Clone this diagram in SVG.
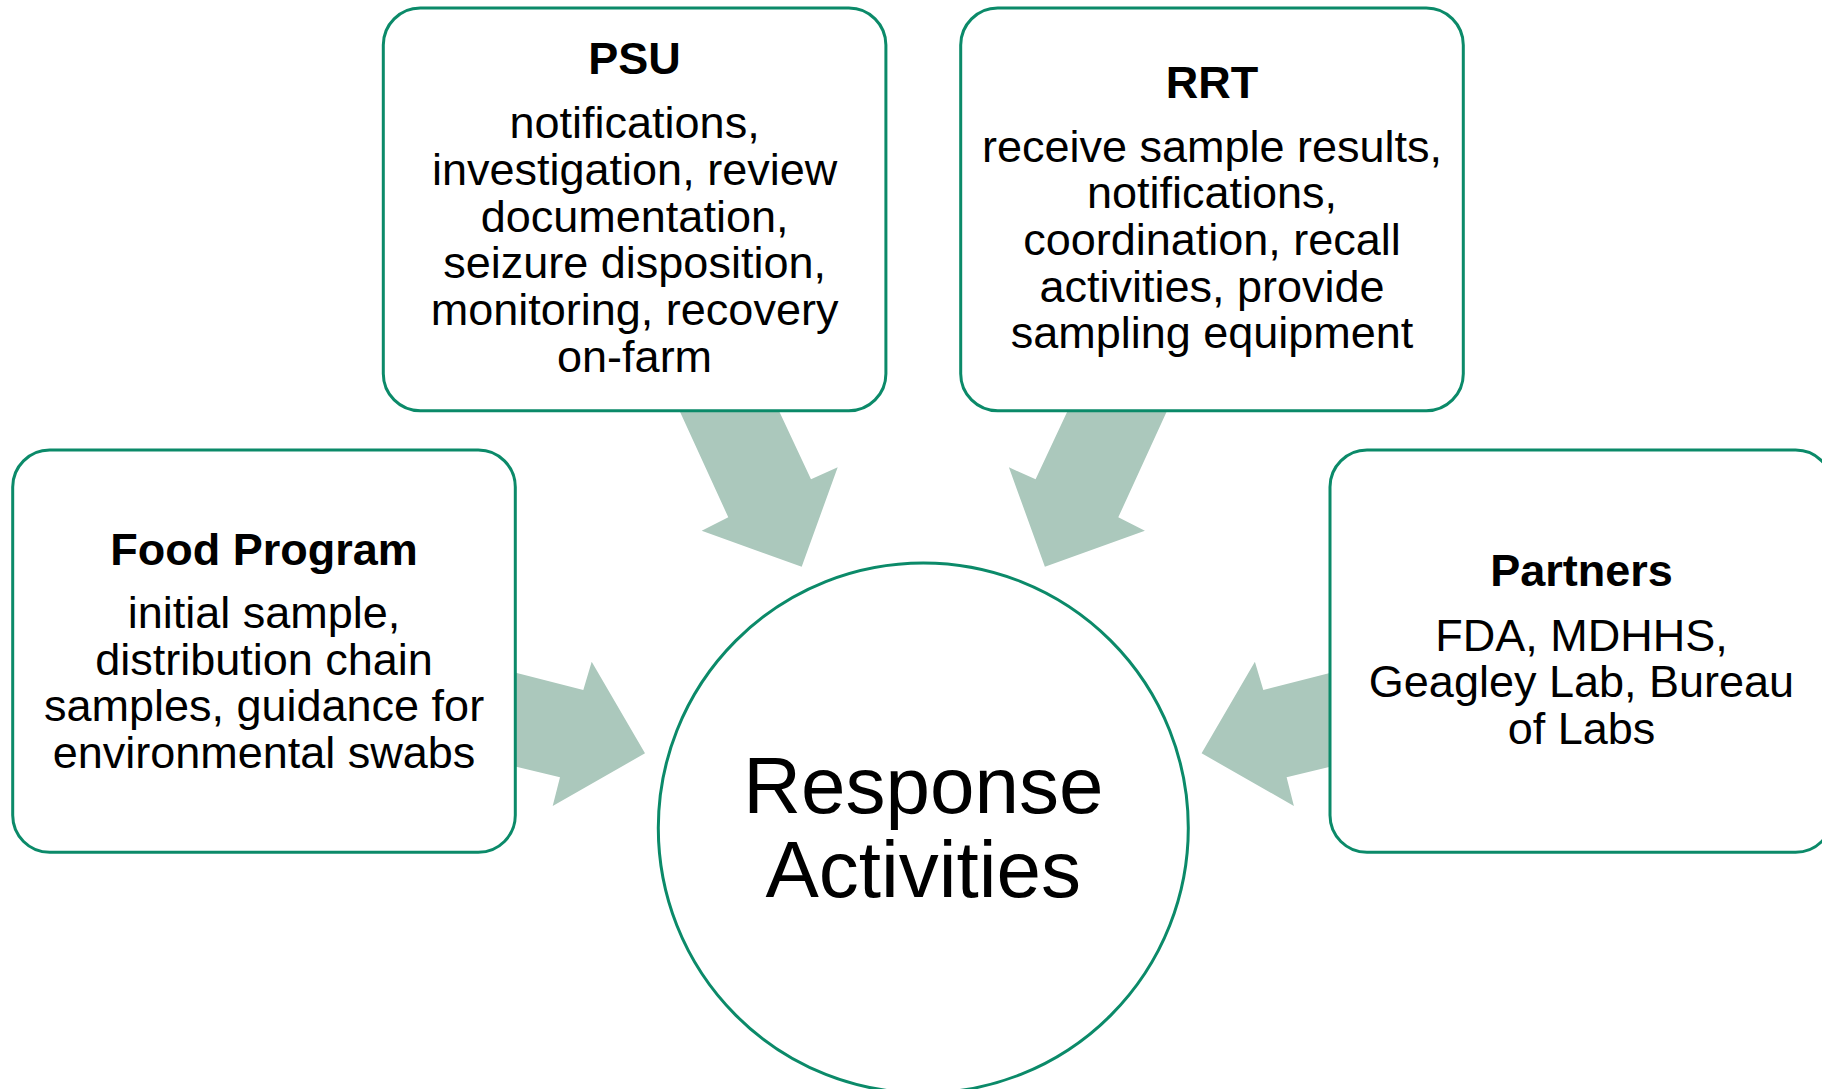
<svg xmlns="http://www.w3.org/2000/svg" width="1822" height="1089" viewBox="0 0 1822 1089">
<style>
.box{fill:#ffffff;stroke:#0B8A69;stroke-width:3}
.arrow{fill:#ABC8BC;stroke:none}
.t{font-family:"Liberation Sans",Arial,sans-serif;font-size:45px;fill:#000;text-anchor:middle}
.h{font-weight:bold}
.c{font-family:"Liberation Sans",Arial,sans-serif;font-size:80px;fill:#000;text-anchor:middle}
</style>
<rect width="1822" height="1089" fill="#ffffff"/>
<g id="connectors">
<polygon class="arrow" points="674.6,400 773.9,400 811,479.3 837.7,467.3 801.7,566.7 701.7,530.7 728.3,517.3"/>
<polygon class="arrow" points="1172,400 1072.7,400 1035.6,479.3 1008.9,467.3 1044.9,566.7 1144.9,530.7 1118.3,517.3"/>
<polygon class="arrow" points="505,669.9 583.3,690 591.7,661.7 645,753.3 552.7,806 560,777.3 505,764"/>
<polygon class="arrow" points="1341.6,669.9 1263.3,690 1254.9,661.7 1201.6,753.3 1293.9,806 1286.6,777.3 1341.6,764"/>
</g>
<g id="response">
<circle cx="923.3" cy="828" r="265" fill="#ffffff" stroke="#0B8A69" stroke-width="3"/>
<text class="c" x="923.3" y="813">Response</text>
<text class="c" x="923.3" y="897">Activities</text>
</g>
<g id="psu">
<rect class="box" x="383.3" y="8" width="502.6" height="402.7" rx="37"/>
<text class="t h" x="634.6" y="74">PSU</text>
<text class="t" x="634.6" y="138.3">notifications,</text>
<text class="t" x="634.6" y="185">investigation, review</text>
<text class="t" x="634.6" y="231.7">documentation,</text>
<text class="t" x="634.6" y="278.3">seizure disposition,</text>
<text class="t" x="634.6" y="325">monitoring, recovery</text>
<text class="t" x="634.6" y="371.7">on-farm</text>
</g>
<g id="rrt">
<rect class="box" x="960.7" y="8" width="502.6" height="402.7" rx="37"/>
<text class="t h" x="1212" y="97.7">RRT</text>
<text class="t" x="1212" y="161.7">receive sample results,</text>
<text class="t" x="1212" y="208.3">notifications,</text>
<text class="t" x="1212" y="255">coordination, recall</text>
<text class="t" x="1212" y="301.7">activities, provide</text>
<text class="t" x="1212" y="348.3">sampling equipment</text>
</g>
<g id="food">
<rect class="box" x="12.7" y="450" width="502.6" height="402.3" rx="37"/>
<text class="t h" x="264" y="565">Food Program</text>
<text class="t" x="264" y="628">initial sample,</text>
<text class="t" x="264" y="674.5">distribution chain</text>
<text class="t" x="264" y="721">samples, guidance for</text>
<text class="t" x="264" y="767.5">environmental swabs</text>
</g>
<g id="partners">
<rect class="box" x="1330" y="450" width="502.6" height="402.3" rx="37"/>
<text class="t h" x="1581.5" y="586">Partners</text>
<text class="t" x="1581.5" y="650.7">FDA, MDHHS,</text>
<text class="t" x="1581.5" y="697">Geagley Lab, Bureau</text>
<text class="t" x="1581.5" y="744">of Labs</text>
</g>
</svg>
